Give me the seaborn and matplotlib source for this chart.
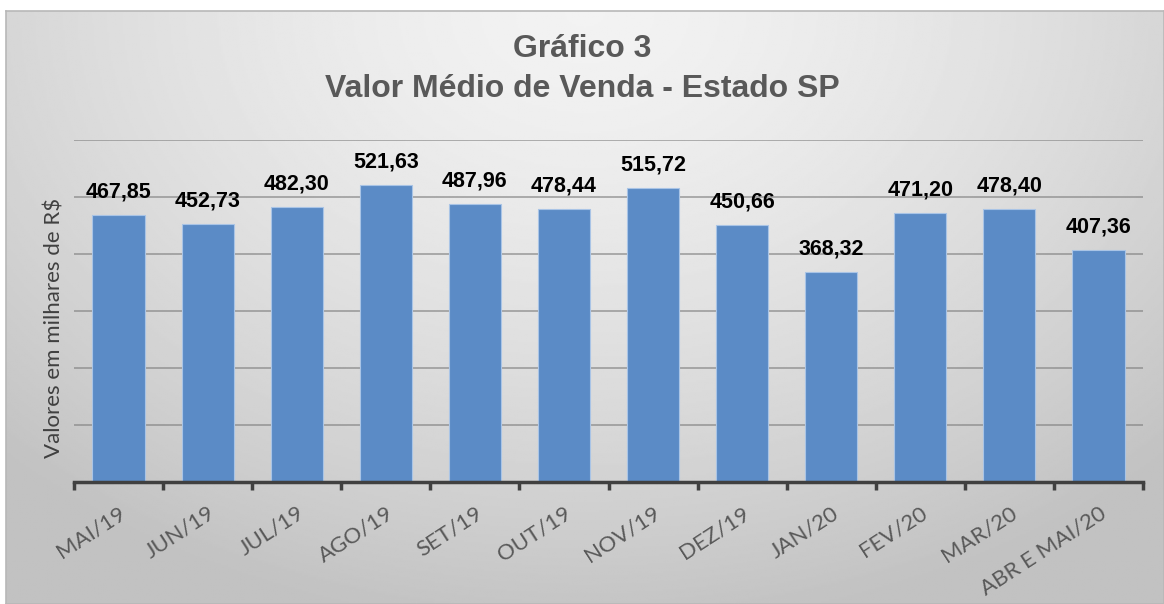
import numpy as np
import pandas as pd
import matplotlib
matplotlib.use("Agg")
import matplotlib.pyplot as plt
import seaborn as sns

# Dados do gráfico
meses = ["MAI/19", "JUN/19", "JUL/19", "AGO/19", "SET/19", "OUT/19",
         "NOV/19", "DEZ/19", "JAN/20", "FEV/20", "MAR/20", "ABR E MAI/20"]
valores = [467.85, 452.73, 482.30, 521.63, 487.96, 478.44,
           515.72, 450.66, 368.32, 471.20, 478.40, 407.36]
titulo = "Gráfico 3\nValor Médio de Venda - Estado SP"
rotulo_y = "Valores em milhares de R$"

sns.set_theme(style="white")
plt.rcParams['font.family'] = ['Liberation Sans', 'DejaVu Sans']

df = pd.DataFrame({"mes": meses, "valor": valores})

W, H = 1164, 604
fig = plt.figure(figsize=(W / 100, H / 100), dpi=100)
fig.patch.set_facecolor("white")

# Fundo com gradiente radial (estilo Excel)
bg = fig.add_axes([6 / W, 0, 1 - 6 / W, 1 - 11 / H], zorder=0)
yy, xx = np.mgrid[0:1:300j, 0:1:600j]
r = np.sqrt(((xx - 0.5) / 0.72) ** 2 + (yy / 1.05) ** 2)
r = np.clip(r, 0, 1)
bg.imshow(0.95 - 0.19 * r ** 1.5, cmap="gray", vmin=0, vmax=1,
          aspect="auto", extent=[0, 1, 1, 0])
bg.set_xticks([])
bg.set_yticks([])
for s in bg.spines.values():
    s.set_color("#b8b8b8")
    s.set_linewidth(1.2)

# Área do gráfico
ax = fig.add_axes([74 / W, 1 - 482 / H, (1143 - 74) / W, (482 - 140) / H], zorder=1)
ax.patch.set_alpha(0)
sns.barplot(x="mes", y="valor", data=df, color="#5b8bc6", width=0.585,
            saturation=1, edgecolor="#a9c4e6", linewidth=0.8, ax=ax, zorder=3)

ax.set_ylim(0, 600)
ax.set_xlim(-0.5, len(meses) - 0.5)
ax.set_yticks(range(0, 700, 100))
ax.set_yticklabels([])
ax.tick_params(axis="y", length=0)
ax.yaxis.grid(True, color="#808080", linewidth=1.2, alpha=0.7, zorder=0)
ax.set_axisbelow(True)

for s in ["top", "right", "left"]:
    ax.spines[s].set_visible(False)
ax.spines["bottom"].set_color("#404040")
ax.spines["bottom"].set_linewidth(2.5)
ax.spines["bottom"].set_zorder(4)

# Marcas de divisão entre categorias (estilo Excel)
ax.set_xticks(np.arange(-0.5, len(meses), 1.0), minor=False)
ax.set_xticklabels([])
ax.tick_params(axis="x", which="major", bottom=True, direction="out", length=6,
               width=2.5, color="#404040", pad=0)
ax.set_xticks(np.arange(len(meses)), minor=True)
ax.set_xticklabels(meses, minor=True, rotation=33, ha="right",
                   rotation_mode="anchor", fontsize=16, color="#595959",
                   family=["Lato", "DejaVu Sans"])
ax.tick_params(axis="x", which="minor", bottom=True, length=0, pad=15)

ax.set_xlabel("")
ax.set_ylabel(rotulo_y, fontsize=16, color="#404040",
              family=["Lato", "DejaVu Sans"])
ax.yaxis.set_label_coords(-0.009, 0.45)

for p, v in zip(ax.patches, valores):
    ax.annotate(f"{v:.2f}".replace(".", ","),
                (p.get_x() + p.get_width() / 2., p.get_height()),
                ha="center", va="bottom", fontsize=15.5, fontweight="bold",
                color="black", xytext=(0, 9), textcoords="offset points")

fig.text(0.5, 1 - 69 / H, titulo, ha="center", va="center", fontsize=23,
         fontweight="bold", color="#595959", linespacing=1.45)

fig.savefig("out.png", dpi=100)
